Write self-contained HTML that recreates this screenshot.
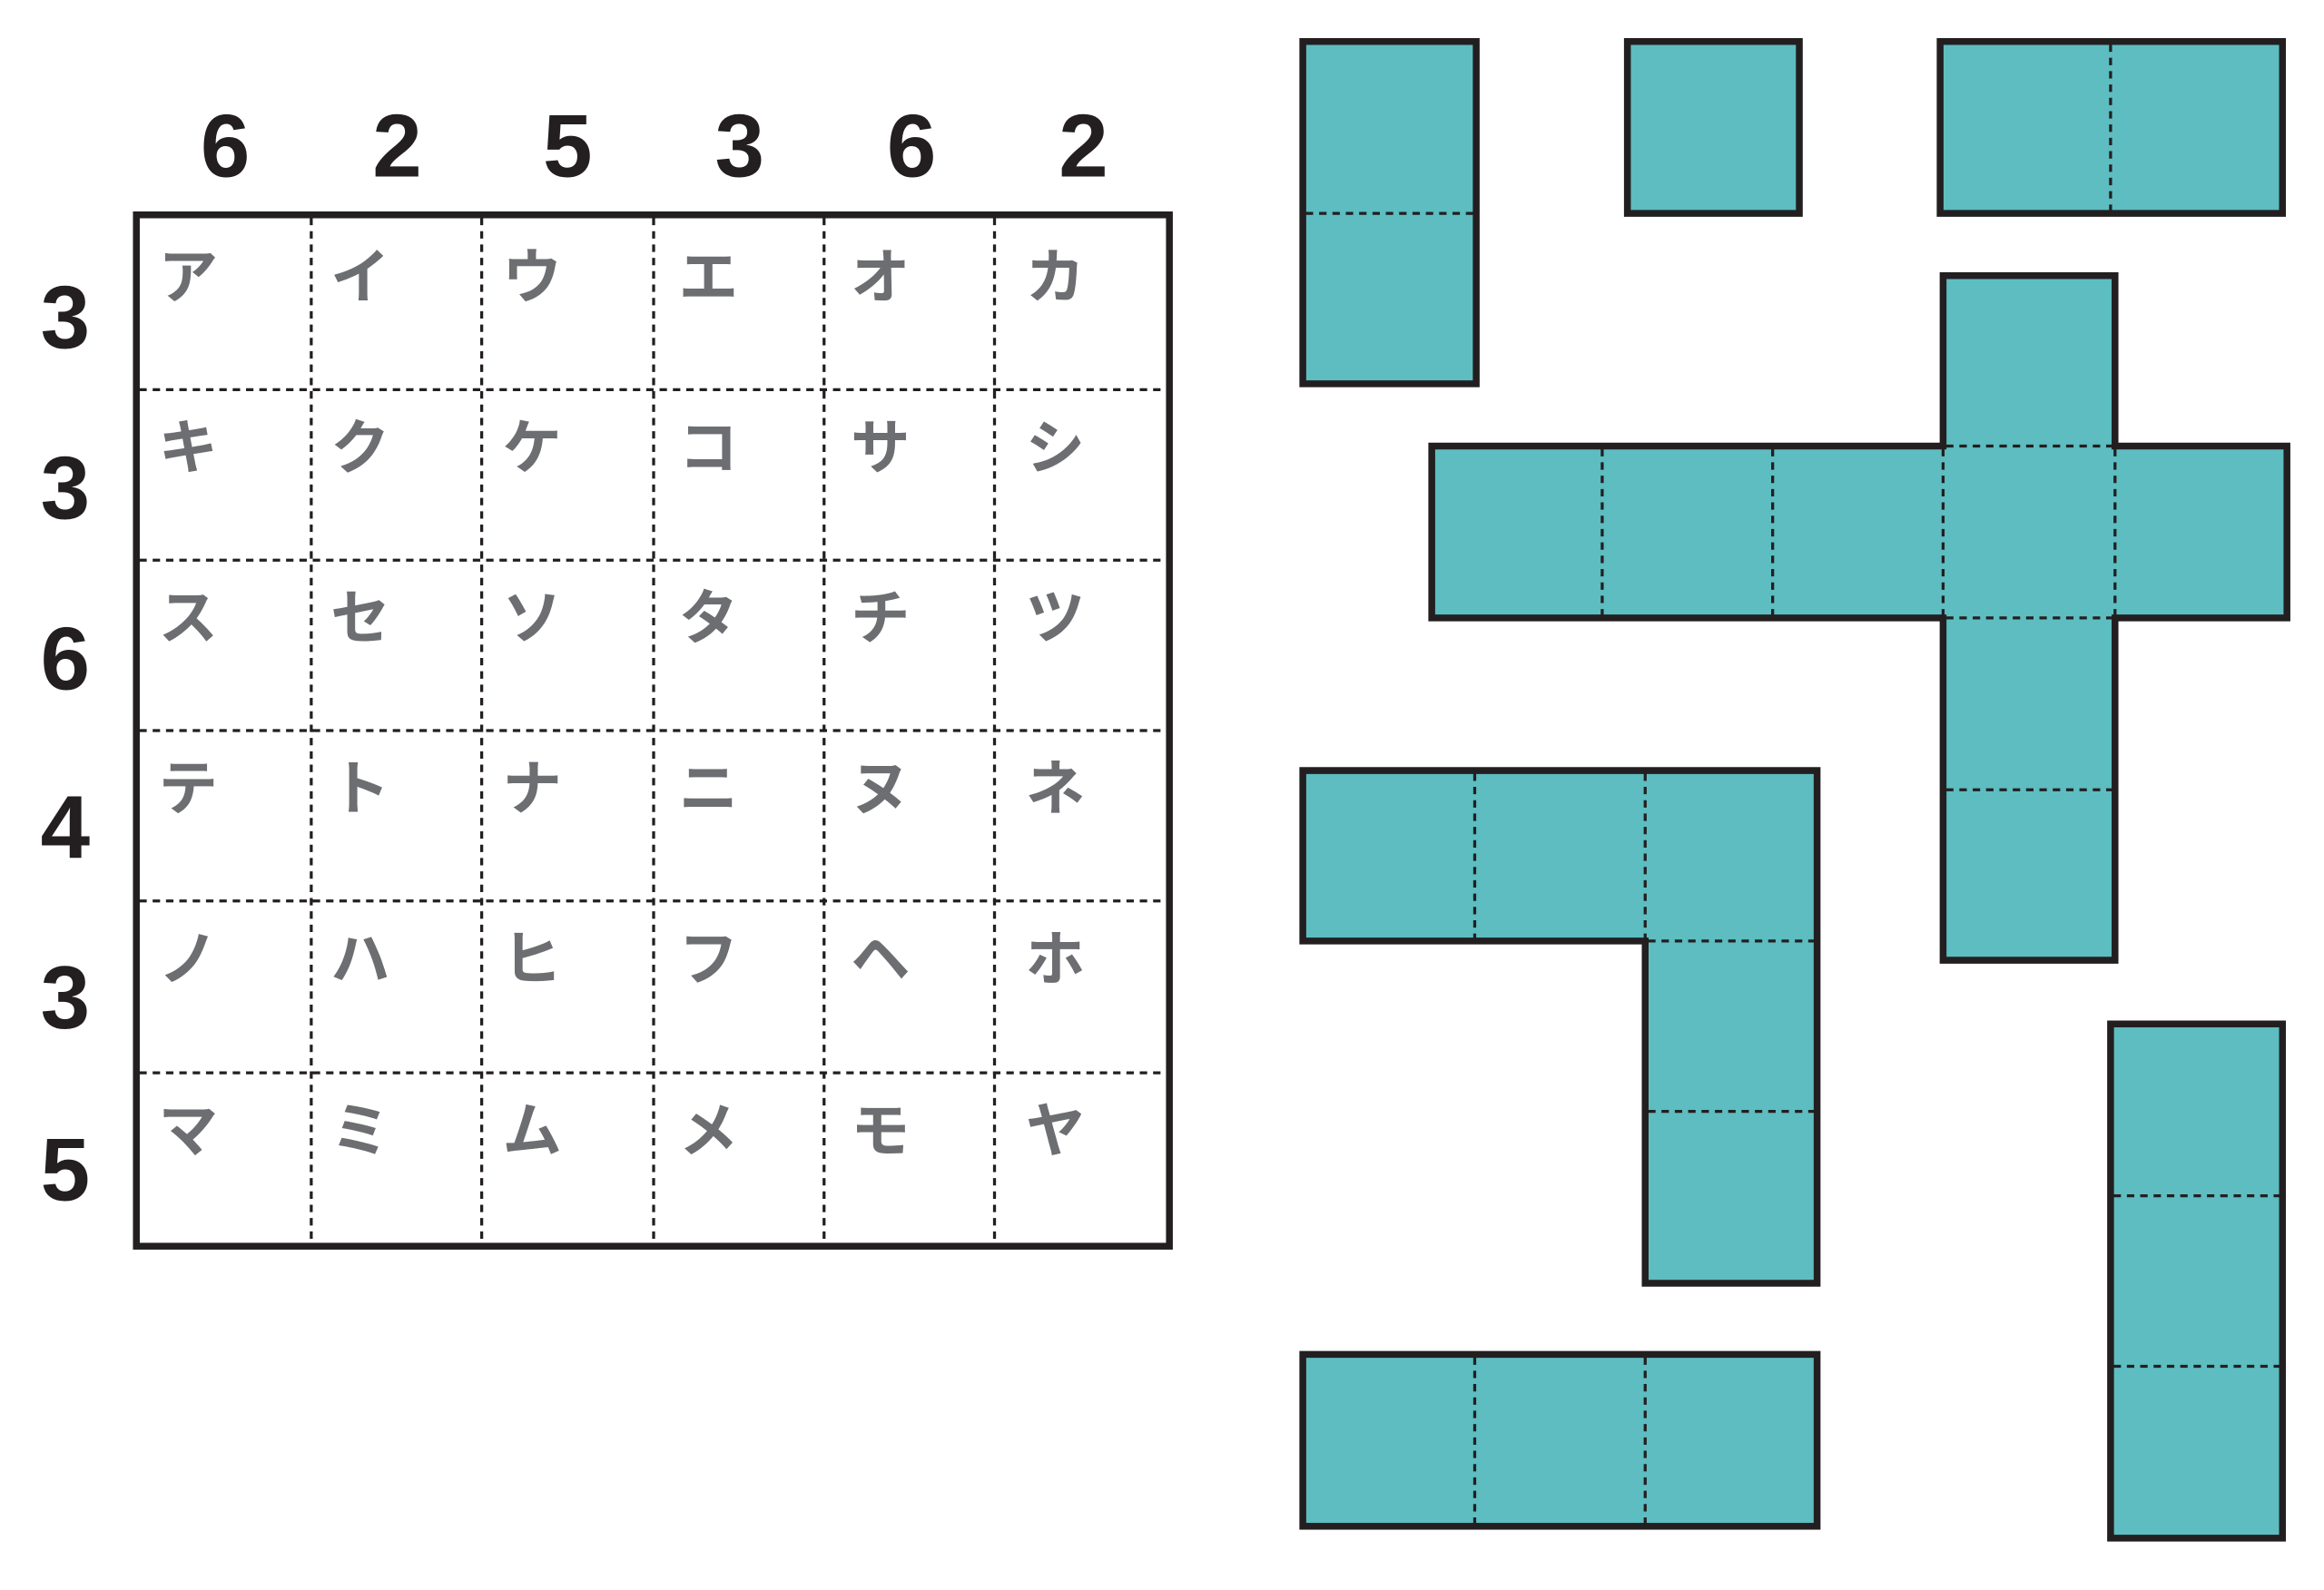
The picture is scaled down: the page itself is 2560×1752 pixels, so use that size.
<!DOCTYPE html>
<html><head><meta charset="utf-8"><style>
html,body{margin:0;padding:0;background:#fff;}
svg{display:block;}
.num{font-family:"Liberation Sans","DejaVu Sans",sans-serif;font-weight:bold;font-size:60px;fill:#231f20;text-anchor:middle;}
.kana{font-family:"Liberation Sans","Noto Sans CJK JP",sans-serif;font-weight:bold;font-size:40px;fill:#6d6e71;}
.piece{fill:#5dbdc1;stroke:#231f20;stroke-width:4.6;stroke-linejoin:miter;}
.d{stroke:#231f20;stroke-width:2;stroke-dasharray:5,4;fill:none;}
</style></head><body>
<svg width="2560" height="1752" viewBox="0 0 1568 1073" preserveAspectRatio="none" xmlns="http://www.w3.org/2000/svg">
<rect width="1568" height="1073" fill="#fff"/>
<g class="num">
<text x="152" y="119">6</text><text x="268" y="119">2</text><text x="383" y="119">5</text>
<text x="499" y="119">3</text><text x="615" y="119">6</text><text x="731" y="119">2</text>
<text x="44" y="235">3</text><text x="44" y="350">3</text><text x="44" y="465">6</text>
<text x="44" y="579">4</text><text x="44" y="694">3</text><text x="44" y="810">5</text>
</g>
<g class="d">
<line x1="210" y1="147" x2="210" y2="839"/><line x1="325" y1="147" x2="325" y2="839"/>
<line x1="441" y1="147" x2="441" y2="839"/><line x1="556" y1="147" x2="556" y2="839"/>
<line x1="671" y1="147" x2="671" y2="839"/>
<line x1="94" y1="263" x2="787" y2="263"/><line x1="94" y1="378" x2="787" y2="378"/>
<line x1="94" y1="493" x2="787" y2="493"/><line x1="94" y1="608" x2="787" y2="608"/>
<line x1="94" y1="724" x2="787" y2="724"/>
</g>
<rect x="92" y="145" width="697" height="696" fill="none" stroke="#231f20" stroke-width="4.6"/>
<g class="kana">
<text x="107" y="201">ア</text><text x="223" y="201">イ</text><text x="339" y="201">ウ</text><text x="458" y="201">エ</text><text x="574" y="201">オ</text><text x="692" y="201">カ</text>
<text x="107" y="316">キ</text><text x="223" y="316">ク</text><text x="339" y="316">ケ</text><text x="458" y="316">コ</text><text x="574" y="316">サ</text><text x="692" y="316">シ</text>
<text x="107" y="431">ス</text><text x="223" y="431">セ</text><text x="339" y="431">ソ</text><text x="458" y="431">タ</text><text x="574" y="431">チ</text><text x="692" y="431">ツ</text>
<text x="107" y="546">テ</text><text x="223" y="546">ト</text><text x="339" y="546">ナ</text><text x="458" y="546">ニ</text><text x="574" y="546">ヌ</text><text x="692" y="546">ネ</text>
<text x="107" y="661">ノ</text><text x="223" y="661">ハ</text><text x="339" y="661">ヒ</text><text x="458" y="661">フ</text><text x="574" y="661">ヘ</text><text x="692" y="661">ホ</text>
<text x="107" y="777">マ</text><text x="223" y="777">ミ</text><text x="339" y="777">ム</text><text x="458" y="777">メ</text><text x="574" y="777">モ</text><text x="692" y="777">ヤ</text>
</g>
<rect class="piece" x="879" y="28" width="117" height="231"/>
<line class="d" x1="881" y1="144" x2="994" y2="144"/>
<rect class="piece" x="1098" y="28" width="116" height="116"/>
<rect class="piece" x="1309" y="28" width="231" height="116"/>
<line class="d" x1="1424" y1="30" x2="1424" y2="142"/>
<polygon class="piece" points="1311,186 1427,186 1427,301 1543,301 1543,417 1427,417 1427,648 1311,648 1311,417 966,417 966,301 1311,301"/>
<g class="d">
<line x1="1081" y1="303" x2="1081" y2="415"/><line x1="1196" y1="303" x2="1196" y2="415"/>
<line x1="1311" y1="303" x2="1311" y2="415"/><line x1="1427" y1="303" x2="1427" y2="415"/>
<line x1="1313" y1="301" x2="1425" y2="301"/><line x1="1313" y1="417" x2="1425" y2="417"/>
<line x1="1313" y1="533" x2="1425" y2="533"/>
</g>
<polygon class="piece" points="879,520 1226,520 1226,866 1110,866 1110,635 879,635"/>
<g class="d">
<line x1="995" y1="522" x2="995" y2="633"/><line x1="1110" y1="522" x2="1110" y2="633"/>
<line x1="1112" y1="635" x2="1224" y2="635"/><line x1="1112" y1="750" x2="1224" y2="750"/>
</g>
<rect class="piece" x="1424" y="691" width="116" height="347"/>
<g class="d"><line x1="1426" y1="807" x2="1538" y2="807"/><line x1="1426" y1="922" x2="1538" y2="922"/></g>
<rect class="piece" x="879" y="914" width="347" height="116"/>
<g class="d"><line x1="995" y1="916" x2="995" y2="1028"/><line x1="1110" y1="916" x2="1110" y2="1028"/></g>
</svg>
</body></html>
